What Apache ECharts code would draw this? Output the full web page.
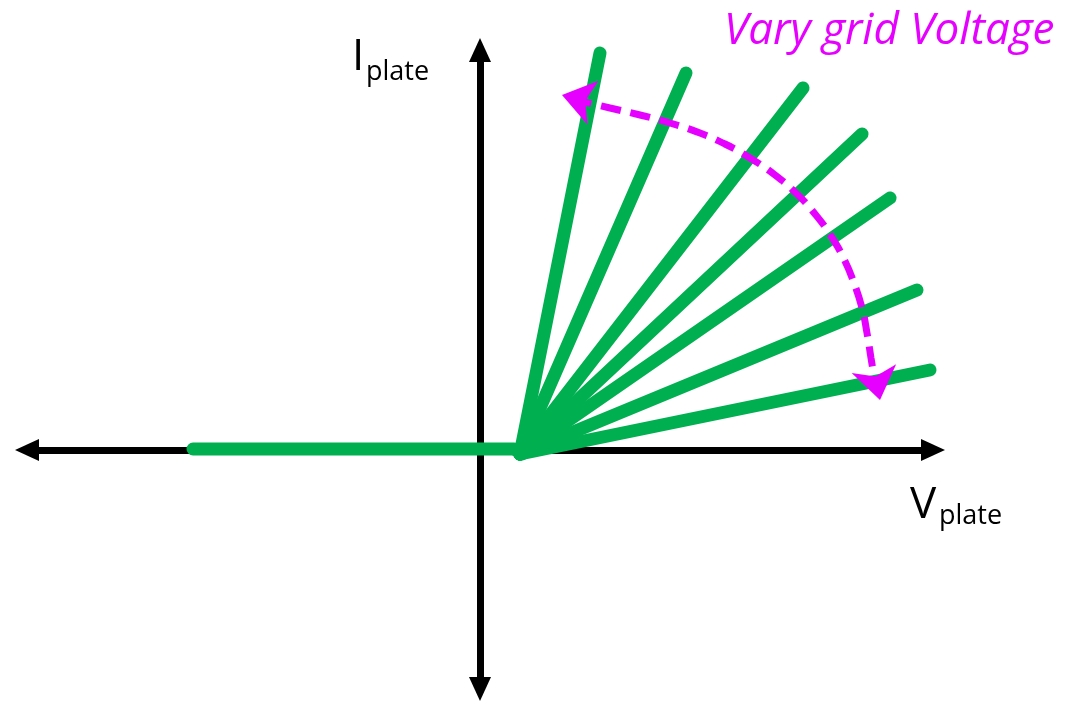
<!DOCTYPE html>
<html>
<head>
<meta charset="utf-8">
<script src="https://cdn.jsdelivr.net/npm/echarts@6/dist/echarts.min.js"></script>
<style>
html,body{margin:0;padding:0;background:#fff;}
#chart{width:1072px;height:701px;}
</style>
</head>
<body>
<div id="chart"></div>
<script>
// ---- data (schematic units: x = plate voltage, y = plate current) ----
const fanOrigin = [40, -4];
const fanEnds = [[120, 397], [206, 377], [323, 362], [382, 316], [410, 252], [437, 160], [450, 80]];
const cutoffLine = [[-287, 1], [34, 1], [42, -4]];
const arcPoints = [[92, 351], [130, 342], [160, 335], [190, 327], [220, 317], [245, 306], [270, 292], [295, 275], [317, 256], [335, 236], [351, 214], [364, 191], [374, 167], [382, 142], [387, 117], [391, 92], [396, 62]];
// arrow tips: [x, y, rotation]
const arrowHeads = [[82, 355, 76], [400, 50, 191]];
const labels = { y: ['I', 'plate'], x: ['V', 'plate'], note: 'Vary grid Voltage' };

const GREEN = '#00b050';
const MAGENTA = '#e600ff';

const chart = echarts.init(document.getElementById('chart'));
const series = [];
fanEnds.forEach(function (e) {
  series.push({
    type: 'line', data: [fanOrigin, e], symbol: 'none', clip: false, z: 3,
    lineStyle: { color: GREEN, width: 13, cap: 'round', join: 'round' }
  });
});
series.push({
  type: 'line', data: cutoffLine, symbol: 'none', clip: false, z: 3,
  lineStyle: { color: GREEN, width: 13, cap: 'round', join: 'round' }
});
series.push({
  type: 'line', data: arcPoints, symbol: 'none', smooth: true, clip: false, z: 4,
  lineStyle: { color: MAGENTA, width: 7, type: [20, 10], cap: 'butt' }
});
arrowHeads.forEach(function (a) {
  series.push({
    type: 'scatter', data: [[a[0], a[1]]], symbol: 'arrow', symbolSize: [34, 32],
    symbolRotate: a[2], clip: false, z: 5, silent: true,
    itemStyle: { color: MAGENTA, opacity: 1 }
  });
});

const axisCommon = {
  type: 'value', splitLine: { show: false }, axisTick: { show: false }, axisLabel: { show: false },
  axisLine: { onZero: true, lineStyle: { color: '#000', width: 7 }, symbol: ['triangle', 'triangle'], symbolSize: [22, 24] }
};

chart.setOption({
  animation: false,
  backgroundColor: '#fff',
  grid: { left: 27, right: 139, top: 50, bottom: 12 },
  xAxis: Object.assign({}, axisCommon, { min: -453, max: 453 }),
  yAxis: Object.assign({}, axisCommon, { min: -239, max: 400 }),
  graphic: [
    { type: 'text', left: 352, top: 35, style: { text: labels.y[0], fontFamily: 'Open Sans', fontSize: 44, fill: '#000' } },
    { type: 'text', left: 366, top: 59, style: { text: labels.y[1], fontFamily: 'Open Sans', fontSize: 27, fill: '#000' } },
    { type: 'text', left: 910, top: 483, style: { text: labels.x[0], fontFamily: 'Open Sans', fontSize: 44, fill: '#000' } },
    { type: 'text', left: 939, top: 503, style: { text: labels.x[1], fontFamily: 'Open Sans', fontSize: 27, fill: '#000' } },
    { type: 'text', left: 724, top: 9, style: { text: labels.note, fontFamily: 'Open Sans', fontStyle: 'italic', fontSize: 44, fill: MAGENTA } }
  ],
  series: series
});
</script>
</body>
</html>
